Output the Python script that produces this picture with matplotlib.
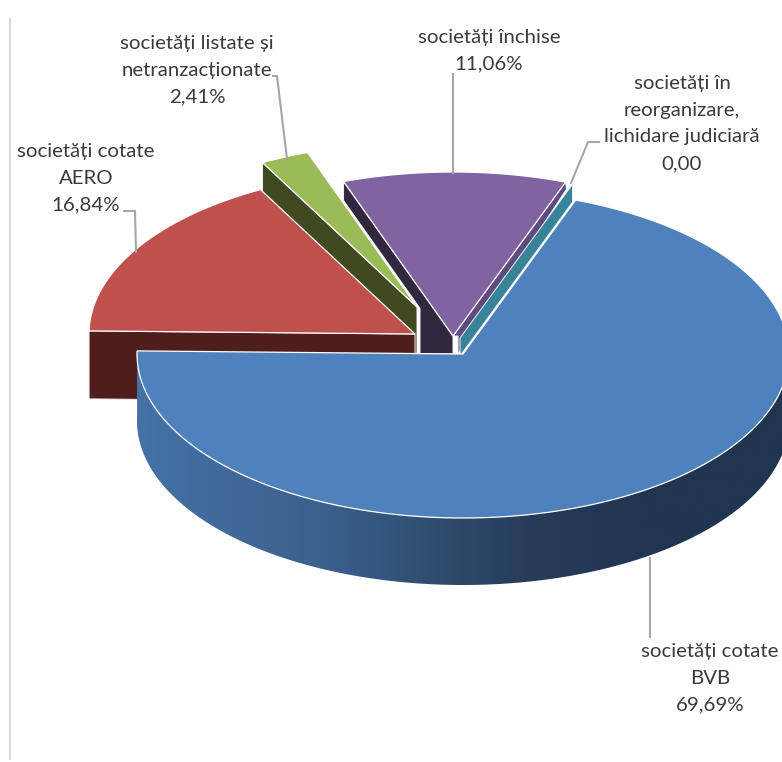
import numpy as np
import matplotlib
matplotlib.use("Agg")
import matplotlib.pyplot as plt
from matplotlib.patches import Polygon
from matplotlib.colors import LinearSegmentedColormap

# ---- data ----
names = ["societăți cotate\nBVB", "societăți cotate\nAERO",
         "societăți listate și\nnetranzacționate", "societăți închise",
         "societăți în\nreorganizare,\nlichidare judiciară"]
values = [69.69, 16.84, 2.41, 11.06, 0.00]
value_labels = ["69,69%", "16,84%", "2,41%", "11,06%", "0,00"]

# ---- style / layout (pixels of the picture) ----
face_colors = ["#4f81bd", "#c0504d", "#9bbb59", "#8064a2", "#4bacc6"]
wall_colors = ["#3c6494", "#4f1e1c", "#3f4a20", "#31273f", "#37839a"]
offsets = [(0, 0), (-48, -20), (-46, -47), (-10, -18), (-3, -16)]
label_pos = [(710, 678), (86, 178), (197, 70), (489, 50), (682, 123)]
leaders = [[(650, 558), (650, 637)],
           [(124, 211), (135, 211), (136, 252)],
           [(273, 76), (277, 76), (287, 159)],
           [(453, 74), (453, 173)],
           [(599, 142), (588, 142), (571, 183)]]
CX, CY, RX, RY, DEPTH = 463, 354, 326, 164, 67
START = 20.2
LINE_STEP = 26.7

plt.rcParams["font.family"] = ["Lato", "DejaVu Sans"]
fig = plt.figure(figsize=(7.82, 7.62), dpi=100)
ax = fig.add_axes([0, 0, 1, 1])
ax.set_xlim(0, 782)
ax.set_ylim(762, 0)
ax.axis("off")

ax.plot([9.5, 9.5], [18, 760], color="#d9d9d9", lw=1.5, solid_capstyle="butt", zorder=0)

# slice angles come from the values
sweeps = np.array(values) / sum(values) * 360
ends = START + np.cumsum(sweeps)
starts = ends - sweeps


def point(i, deg):
    ox, oy = offsets[i]
    t = np.radians(deg)
    return np.array([CX + ox + RX * np.sin(t), CY + oy - RY * np.cos(t)])


def apex(i):
    return np.array([CX + offsets[i][0], CY + offsets[i][1]])


def face(i, z):
    th = np.linspace(starts[i], ends[i], 200)
    pts = [apex(i)] + [point(i, a) for a in th]
    ax.add_patch(Polygon(pts, closed=True, fc=face_colors[i], ec="white", lw=0.9,
                         alpha=1, joinstyle="miter", zorder=z))


def wall(pts, color, z):
    ax.add_patch(Polygon(pts, closed=True, fc=color, ec="#f4f4f4", lw=0.7, zorder=z))


# purple walls (partly hidden)
A = apex(3)
CL = point(3, starts[3])
CR = point(3, ends[3])
gx = apex(2)[0] + 3
d = 19
low_y = CL[1] + d + (gx - CL[0]) * (A[1] - CL[1]) / (A[0] - CL[0])
wall([CL, A, (A[0], CY), (gx, CY), (gx, low_y), CL + (0, d)], wall_colors[3], 2)
# green
G = apex(2)
GL = point(2, starts[2])
wall([GL, G, G + (0, DEPTH), GL + (0, DEPTH)], wall_colors[2], 3)
face(2, 4)
# red
R = apex(1)
RL = point(1, starts[1])
wall([RL, R, R + (0, DEPTH + 1), RL + (0, DEPTH + 1)], wall_colors[1], 5)
face(1, 6)
# purple face and thin right wall
wall([CR, A, A + (5, 0), A + (5, 18), CR + (1, 7)], "#5f4a80", 6)
face(3, 7)
# zero slice: only its wall is seen
Z = apex(4)
ZC = point(4, ends[4])
wall([ZC, Z, Z + (0, 18), ZC + (0, 18)], wall_colors[4], 8)

# blue rim with a horizontal gradient
th = np.linspace(starts[0], ends[0], 400)
top = np.array([point(0, a) for a in th])
rim = np.vstack([top, (top + (0, DEPTH))[::-1]])
rim_patch = Polygon(rim, closed=True, fc="none", ec="none", transform=ax.transData)
ax.add_patch(rim_patch)
x0, x1 = 136, 790
stops = [(136, "#4672a6"), (330, "#3a5f8c"), (463, "#2c4868"), (530, "#263c5a"),
         (640, "#1f3550"), (790, "#1f3550")]
cmap = LinearSegmentedColormap.from_list("rim", [((x - x0) / (x1 - x0), c) for x, c in stops])
im = ax.imshow(np.linspace(0, 1, 512)[None, :], cmap=cmap, aspect="auto",
               extent=[x0, x1, 762, 0], zorder=9)
im.set_clip_path(rim_patch)
ax.set_xlim(0, 782)
ax.set_ylim(762, 0)
face(0, 10)

# leaders
for seg in leaders:
    xs, ys = zip(*seg)
    ax.plot(xs, ys, color="#a6a6a6", lw=1.5, solid_joinstyle="miter", zorder=11)

# labels: one text per line so the line step is exact
for name, lab, (x, y) in zip(names, value_labels, label_pos):
    lines = name.split("\n") + [lab]
    for k, line in enumerate(lines):
        ax.text(x, y + 6 + (k - (len(lines) - 1) / 2) * LINE_STEP, line, ha="center",
                va="baseline", fontsize=14.7, color="#3a3a3a", zorder=12)

fig.savefig("out.png", dpi=100)
